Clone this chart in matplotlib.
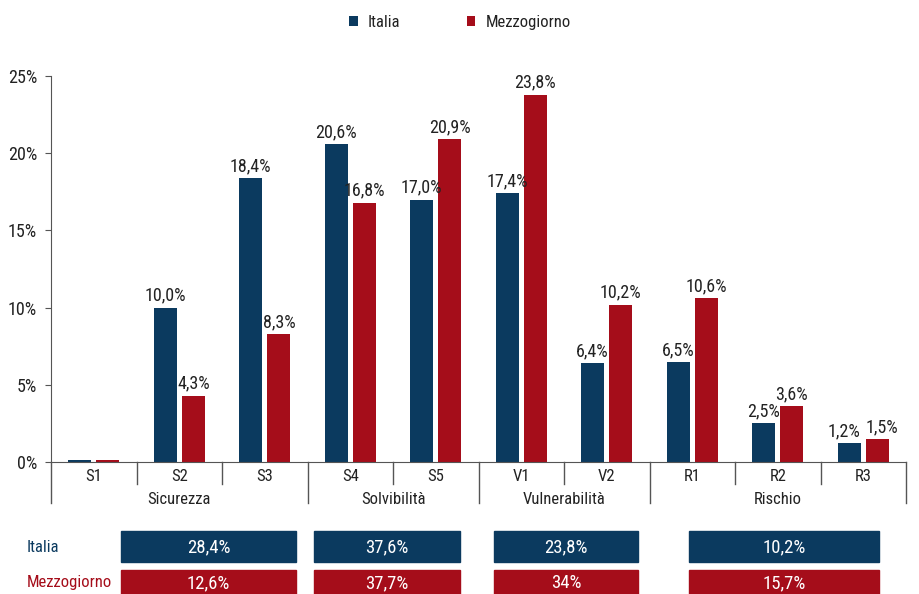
import matplotlib
matplotlib.use("Agg")
import matplotlib.pyplot as plt
from matplotlib import font_manager
from matplotlib.patches import Rectangle
import matplotlib.transforms as mtransforms

names = {f.name for f in font_manager.fontManager.ttflist}
fam = None
for cand in ["Roboto Condensed", "Open Sans Condensed", "Liberation Sans Narrow", "Noto Sans Condensed"]:
    if cand in names:
        fam = cand
        break
if fam is None:
    fam = "DejaVu Sans"
    plt.rcParams['font.stretch'] = 'condensed'
plt.rcParams['font.family'] = [fam, 'DejaVu Sans']

categories = ["S1", "S2", "S3", "S4", "S5", "V1", "V2", "R1", "R2", "R3"]
italia = [0.1, 10.0, 18.4, 20.6, 17.0, 17.4, 6.4, 6.5, 2.5, 1.2]
mezzogiorno = [0.1, 4.3, 8.3, 16.8, 20.9, 23.8, 10.2, 10.6, 3.6, 1.5]
show_label = [False, True, True, True, True, True, True, True, True, True]
groups = ["Sicurezza", "Solvibilità", "Vulnerabilità", "Rischio"]
group_spans = [(0, 2), (3, 4), (5, 6), (7, 9)]
table_italia = ["28,4%", "37,6%", "23,8%", "10,2%"]
table_mezzo = ["12,6%", "37,7%", "34%", "15,7%"]
yticks = [0, 5, 10, 15, 20, 25]

NAVY = "#0B3A5F"
RED = "#A50D1A"
TXT = "#222222"
FS = 12
FS_VAL = 13
FS_TAB = 13.5

fig = plt.figure(figsize=(9.2, 5.94), dpi=100)
ax = fig.add_axes([51/920, 1-462/594, 855/920, 386/594])

x = list(range(len(categories)))
w = 0.27
off = 0.165
ax.bar([i - off for i in x], italia, width=w, color=NAVY, label="Italia")
ax.bar([i + off for i in x], mezzogiorno, width=w, color=RED, label="Mezzogiorno")

def fmt(v):
    return f"{v:.1f}%".replace(".", ",")

for i in x:
    if show_label[i]:
        # spread the two labels apart a little where the bars are low and close
        nudge = 3.5 if abs(italia[i] - mezzogiorno[i]) < 0.8 else 0
        ax.annotate(fmt(italia[i]), (i - off, italia[i]), xytext=(-nudge, 2),
                    textcoords="offset points", ha="center", va="bottom",
                    fontsize=FS_VAL, color=TXT)
        ax.annotate(fmt(mezzogiorno[i]), (i + off, mezzogiorno[i]), xytext=(nudge, 2),
                    textcoords="offset points", ha="center", va="bottom",
                    fontsize=FS_VAL, color=TXT)

ax.set_xlim(-0.5, len(categories) - 0.5)
ax.set_ylim(0, 25)
ax.set_yticks(yticks)
ax.set_yticklabels([f"{t}%" for t in yticks], fontsize=FS_VAL, color=TXT)
ax.tick_params(axis="y", length=4, color="#555555", pad=6)
ax.set_xticks([])
for s in ["top", "right"]:
    ax.spines[s].set_visible(False)
ax.spines["left"].set_color("#555555")
ax.spines["bottom"].set_color("#555555")

trans = mtransforms.blended_transform_factory(ax.transData, ax.transAxes)
for i, c in enumerate(categories):
    ax.text(i, -0.037, c, transform=trans, ha="center", va="center", fontsize=FS, color=TXT)
group_edges = {-0.5} | {e + 0.5 for (_, e) in group_spans}
for k in range(len(categories) + 1):
    xe = k - 0.5
    depth = -0.105 if xe in group_edges else -0.057
    ax.plot([xe, xe], [0, depth], transform=trans, color="#555555", lw=1, clip_on=False)
for g, (s, e) in zip(groups, group_spans):
    ax.text((s + e) / 2, -0.096, g, transform=trans, ha="center", va="center",
            fontsize=FS, color=TXT)

leg = fig.legend(loc="upper center", bbox_to_anchor=(0.5, 1.0), ncol=2, frameon=False,
                 fontsize=FS, handlelength=0.5, handleheight=0.5, columnspacing=4,
                 handletextpad=0.6)
for t in leg.get_texts():
    t.set_color(TXT)

box_x = [(121, 296), (314, 460), (494, 638), (689, 879)]
H = 594
for (x0, x1), vi, vm in zip(box_x, table_italia, table_mezzo):
    fig.patches.append(Rectangle((x0/920, 1-562/H), (x1-x0)/920, 31/H,
                                 transform=fig.transFigure, color=NAVY))
    fig.text((x0+x1)/2/920, 1-547/H, vi, ha="center", va="center", fontsize=FS_TAB, color="white")
    fig.patches.append(Rectangle((x0/920, 0), (x1-x0)/920, 24/H,
                                 transform=fig.transFigure, color=RED))
    fig.text((x0+x1)/2/920, 1-583/H, vm, ha="center", va="center", fontsize=FS_TAB, color="white")
fig.text(27/920, 1-547/H, "Italia", ha="left", va="center", fontsize=FS, color=NAVY)
fig.text(27/920, 1-582/H, "Mezzogiorno", ha="left", va="center", fontsize=FS, color=RED)

fig.savefig("out.png", dpi=100)
